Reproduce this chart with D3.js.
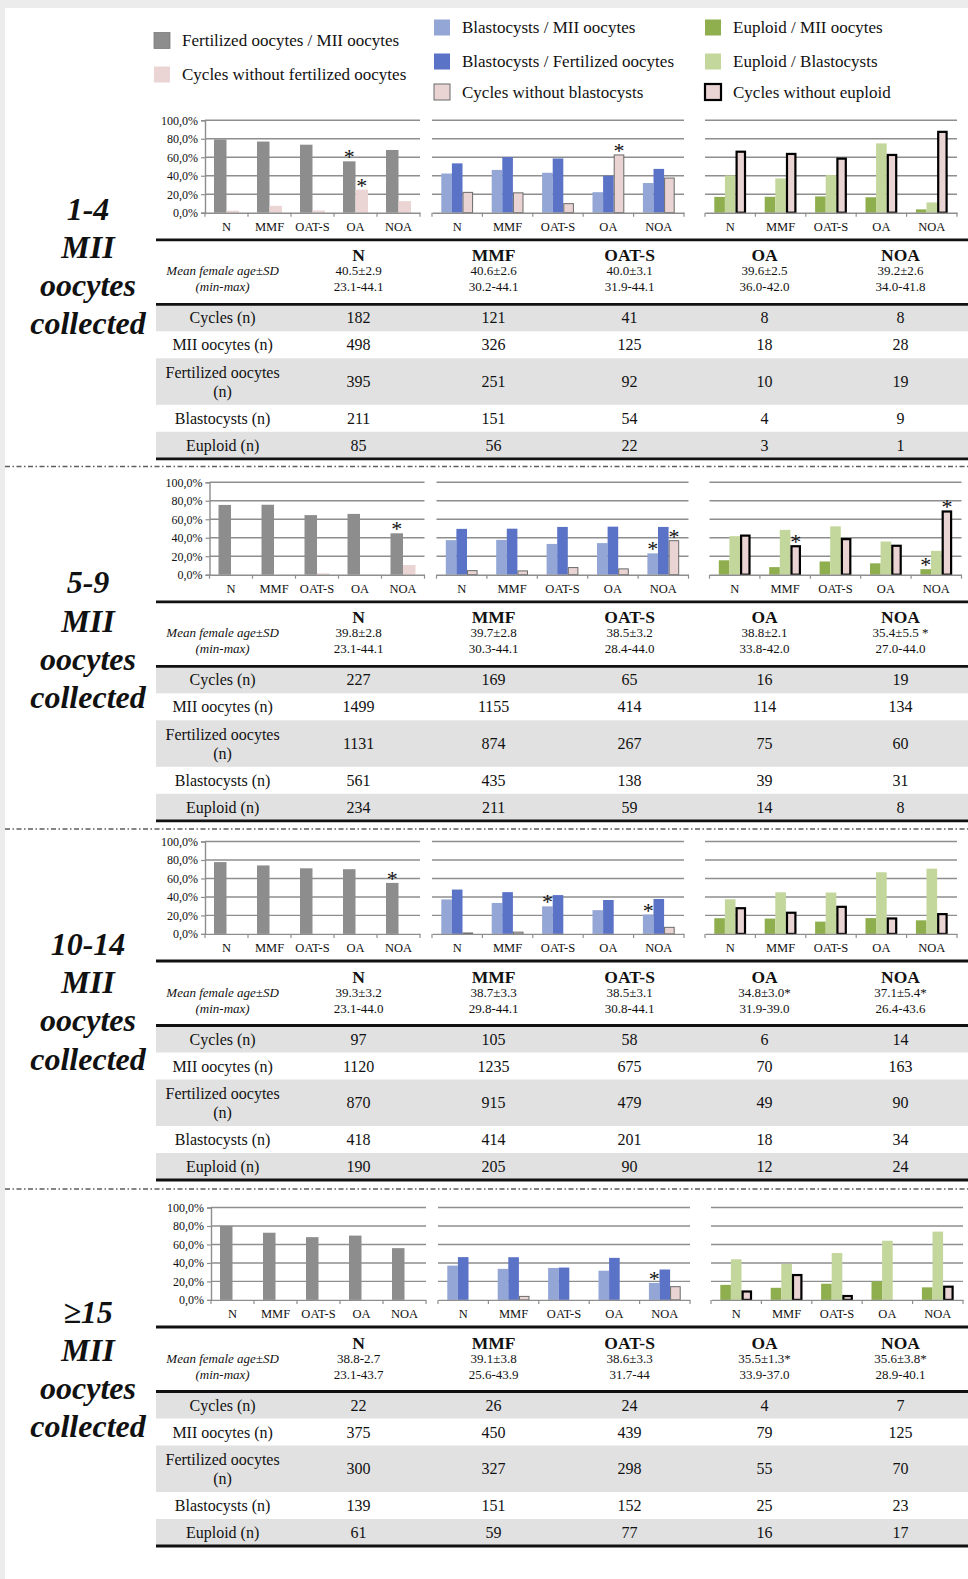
<!DOCTYPE html>
<html><head><meta charset="utf-8">
<script src="https://cdn.jsdelivr.net/npm/d3@7"></script>
<style>
html,body{margin:0;padding:0;background:#fff;}
svg{display:block;}
text{font-family:"Liberation Serif","Times New Roman",serif;fill:#111;}
</style></head><body>
<svg id="fig" width="968" height="1579"></svg>
<script>
// ---- data ----
const groups = ["N", "MMF", "OAT-S", "OA", "NOA"];
const panelTitles = ["1-4", "5-9", "10-14", "\u226515"];
const yTicks = [0, 20, 40, 60, 80, 100];

// percentages per panel (rows) and male factor group (columns)
const fertPerMII      = [[79.3,77.0,73.6,55.6,67.9],[75.5,75.7,64.5,65.8,44.8],[77.7,74.1,71.0,70.0,55.2],[80.0,72.7,67.9,69.6,56.0]];
const noFertCycles    = [[2.2,7.4,2.4,25.0,12.5],[0,0,1.5,0,10.5],[0,0,0,0,0],[0,0,0,0,0]];
const blastPerMII     = [[42.4,46.3,43.2,22.2,32.1],[37.4,37.7,33.3,34.2,23.1],[37.3,33.5,29.8,25.7,20.9],[37.1,33.6,34.6,31.6,18.4]];
const blastPerFert    = [[53.4,60.2,58.7,40.0,47.4],[49.6,49.8,51.7,52.0,51.7],[48.0,45.2,42.0,36.7,37.8],[46.3,46.2,35.0,45.5,32.9]];
const noBlastCycles   = [[22.0,21.5,9.8,62.5,37.5],[4.4,4.1,7.7,6.3,36.8],[1.0,1.9,0,0,7.1],[0,3.8,0,0,14.3]];
const euploidPerMII   = [[17.1,17.2,17.6,16.7,3.6],[15.6,8.2,14.3,12.3,6.0],[17.0,16.6,13.3,17.1,14.7],[16.3,13.1,17.5,20.3,13.6]];
const euploidPerBlast = [[40.3,37.1,40.7,75.0,11.1],[41.7,48.5,52.3,35.9,25.8],[37.5,45.0,44.8,66.7,70.6],[43.9,39.1,50.7,64.0,73.9]];
const noEuploidCycles = [[66.0,63.6,58.5,62.5,87.5],[42.3,30.8,38.5,31.3,68.4],[27.8,22.9,29.3,16.7,21.4],[9.1,26.9,4.2,0,14.3]];

// significant differences: [chart, series, group]
const significance = [
  [[0,0,3],[0,1,3],[1,2,3]],
  [[0,0,4],[1,0,4],[1,2,4],[2,2,1],[2,0,4],[2,2,4]],
  [[0,0,4],[1,0,2],[1,0,4]],
  [[1,0,4]]
];

// table counts
const ageMeanSD = [["40.5\u00b12.9","40.6\u00b12.6","40.0\u00b13.1","39.6\u00b12.5","39.2\u00b12.6"],
                   ["39.8\u00b12.8","39.7\u00b12.8","38.5\u00b13.2","38.8\u00b12.1","35.4\u00b15.5 *"],
                   ["39.3\u00b13.2","38.7\u00b13.3","38.5\u00b13.1","34.8\u00b13.0*","37.1\u00b15.4*"],
                   ["38.8-2.7","39.1\u00b13.8","38.6\u00b13.3","35.5\u00b11.3*","35.6\u00b13.8*"]];
const ageRange  = [["23.1-44.1","30.2-44.1","31.9-44.1","36.0-42.0","34.0-41.8"],
                   ["23.1-44.1","30.3-44.1","28.4-44.0","33.8-42.0","27.0-44.0"],
                   ["23.1-44.0","29.8-44.1","30.8-44.1","31.9-39.0","26.4-43.6"],
                   ["23.1-43.7","25.6-43.9","31.7-44","33.9-37.0","28.9-40.1"]];
const cycles      = [[182,121,41,8,8],[227,169,65,16,19],[97,105,58,6,14],[22,26,24,4,7]];
const miiOocytes  = [[498,326,125,18,28],[1499,1155,414,114,134],[1120,1235,675,70,163],[375,450,439,79,125]];
const fertilized  = [[395,251,92,10,19],[1131,874,267,75,60],[870,915,479,49,90],[300,327,298,55,70]];
const blastocysts = [[211,151,54,4,9],[561,435,138,39,31],[418,414,201,18,34],[139,151,152,25,23]];
const euploid     = [[85,56,22,3,1],[234,211,59,14,8],[190,205,90,12,24],[61,59,77,16,17]];
const rowLabels = [["Cycles (n)"],["MII oocytes (n)"],["Fertilized oocytes","(n)"],["Blastocysts (n)"],["Euploid (n)"]];

// ---- styles ----
const C = {
  gray: "#8d8d8d", pinkFlat: "#ead5d4", blueLight: "#93a6d5", blueDark: "#5a73c7",
  pink: "#e9d4d3", greenDark: "#8fae4e", greenLight: "#c3d69b", grid: "#8e8e8e", rowBg: "#e1e1e1"
};
const chartSeries = [
  [{data: fertPerMII, fill: C.gray}, {data: noFertCycles, fill: C.pinkFlat}],
  [{data: blastPerMII, fill: C.blueLight}, {data: blastPerFert, fill: C.blueDark}, {data: noBlastCycles, fill: C.pink, stroke: "#6a6a6a", sw: 1}],
  [{data: euploidPerMII, fill: C.greenDark}, {data: euploidPerBlast, fill: C.greenLight}, {data: noEuploidCycles, fill: C.pink, stroke: "#000", sw: 2.2}]
];
const legendItems = [
  {x: 154, y: 40.5, label: "Fertilized oocytes / MII oocytes", fill: C.gray, stroke: "#7a7a7a", sw: 0.8},
  {x: 154, y: 74.5, label: "Cycles without fertilized oocytes", fill: C.pinkFlat},
  {x: 434, y: 27.5, label: "Blastocysts / MII oocytes", fill: C.blueLight},
  {x: 434, y: 61.5, label: "Blastocysts / Fertilized oocytes", fill: C.blueDark},
  {x: 434, y: 92, label: "Cycles without blastocysts", fill: C.pink, stroke: "#6a6a6a", sw: 1},
  {x: 705, y: 27.5, label: "Euploid / MII oocytes", fill: C.greenDark},
  {x: 705, y: 61.5, label: "Euploid / Blastocysts", fill: C.greenLight},
  {x: 705, y: 92, label: "Cycles without euploid", fill: C.pink, stroke: "#000", sw: 2.2}
];

// ---- layout ----
const W = 968, H = 1579;
const chartTops = [120.3, 482.3, 841.5, 1207.5];
const panelShift = [0, 4.5, 0, 6];
const chartH = 92.4;
const chartX = [205, 432, 705], chartW = [215, 252, 252], barPad = [9, 9.3, 9.3];
const tableOffset = 119.5, tableX0 = 156, tableX1 = 968;
const labelColX = 222.6, colX = [358.6, 493.6, 629.6, 764.5, 900.5];
const headerH = 64.5, rowH = [27, 27, 46.5, 27, 27];
const titleY = [208.5, 582.2, 943.8, 1311.5], titleStep = 38.3, titleX = 88;
const separators = [466.4, 829, 1189];

const svg = d3.select("#fig");
svg.append("rect").attr("width", W).attr("height", H).attr("fill", "#fff");
svg.append("rect").attr("width", W).attr("height", 8).attr("fill", "#ececec");
svg.append("rect").attr("width", 5).attr("height", H).attr("fill", "#ececec");

function txt(g, x, y, s, o = {}) {
  return g.append("text").attr("x", x).attr("y", y)
    .attr("text-anchor", o.anchor || "middle")
    .attr("dominant-baseline", "central")
    .style("font-size", (o.size || 16) + "px")
    .style("font-weight", o.bold ? "bold" : null)
    .style("font-style", o.italic ? "italic" : null)
    .text(s);
}

// legend
const lg = svg.append("g");
legendItems.forEach(d => {
  lg.append("rect").attr("x", d.x).attr("y", d.y - 8).attr("width", 16).attr("height", 16)
    .attr("fill", d.fill).attr("stroke", d.stroke || "none").attr("stroke-width", d.sw || 0);
  txt(lg, d.x + 28, d.y, d.label, {anchor: "start", size: 17});
});

// separators
separators.forEach(yy => {
  svg.append("line").attr("x1", 5).attr("x2", W).attr("y1", yy).attr("y2", yy)
    .attr("stroke", "#5e5e5e").attr("stroke-width", 1.5).attr("stroke-dasharray", "5,2.5,1.5,2.5");
});

chartTops.forEach((top, p) => {
  const dx = panelShift[p];
  const g = svg.append("g");

  // three bar charts
  chartSeries.forEach((series, c) => {
    const x0 = chartX[c] + dx, x1 = x0 + chartW[c];
    const y = d3.scaleLinear().domain([0, 100]).range([top + chartH, top]);
    const band = d3.scaleBand().domain(groups).range([x0, x1]);
    const inner = d3.scaleBand().domain(d3.range(series.length)).range([barPad[c], band.bandwidth() - barPad[c]]);
    const cg = g.append("g");

    cg.selectAll("line.grid").data(yTicks.filter(t => t > 0)).join("line")
      .attr("x1", x0).attr("x2", x1).attr("y1", d => y(d)).attr("y2", d => y(d))
      .attr("stroke", C.grid).attr("stroke-width", 1.4);

    if (c === 0) {
      const ax = cg.append("g").attr("transform", `translate(${x0},0)`)
        .call(d3.axisLeft(y).tickValues(yTicks).tickSize(4).tickPadding(3)
          .tickFormat(d => d.toFixed(1).replace(".", ",") + "%"));
      ax.select(".domain").attr("stroke", C.grid).attr("stroke-width", 1.4);
      ax.selectAll(".tick line").attr("stroke", C.grid).attr("stroke-width", 1.2);
      ax.selectAll(".tick text").style("font-family", '"Liberation Serif",serif').style("font-size", "12px").attr("fill", "#111");
    }

    series.forEach((s, si) => {
      cg.selectAll(null).data(groups.map((gname, gi) => ({gname, v: s.data[p][gi]})).filter(d => d.v > 0))
        .join("rect")
        .attr("x", d => band(d.gname) + inner(si) + (s.sw ? s.sw / 2 : 0))
        .attr("width", inner.bandwidth() - (s.sw ? s.sw : 0))
        .attr("y", d => y(d.v))
        .attr("height", d => y(0) - y(d.v))
        .attr("fill", s.fill)
        .attr("stroke", s.stroke || "none").attr("stroke-width", s.sw || 0);
    });

    // category axis
    const xa = cg.append("g").attr("transform", `translate(0,${y(0)})`)
      .call(d3.axisBottom(band).tickSize(0).tickPadding(9));
    xa.select(".domain").attr("stroke", C.grid).attr("stroke-width", 1.4);
    xa.selectAll(".tick text").style("font-family", '"Liberation Serif",serif').style("font-size", "12.5px").attr("fill", "#111");
    const bounds = groups.map(gname => band(gname)).concat([x1]);
    cg.selectAll("line.bt").data(bounds).join("line")
      .attr("x1", d => d).attr("x2", d => d).attr("y1", y(0)).attr("y2", y(0) + 4)
      .attr("stroke", C.grid).attr("stroke-width", 1.2);

    // significance marks
    significance[p].filter(m => m[0] === c).forEach(m => {
      const s = series[m[1]];
      const v = s.data[p][m[2]];
      const cx = band(groups[m[2]]) + inner(m[1]) + inner.bandwidth() / 2;
      g.append("text").attr("x", cx).attr("y", y(v) + 3).attr("text-anchor", "middle")
        .style("font-size", "22px").text("*");
    });
  });

  // table
  const t0 = top + tableOffset;
  const tg = g.append("g");
  let yy = t0 + headerH;
  const rowValues = [cycles, miiOocytes, fertilized, blastocysts, euploid];
  rowH.forEach((h, r) => {
    if (r % 2 === 0) tg.append("rect").attr("x", tableX0).attr("y", yy).attr("width", tableX1 - tableX0).attr("height", h).attr("fill", C.rowBg);
    const mid = yy + h / 2;
    const lab = rowLabels[r];
    if (lab.length === 1) txt(tg, labelColX, mid, lab[0], {size: 16});
    else { txt(tg, labelColX, mid - 9.5, lab[0], {size: 16}); txt(tg, labelColX, mid + 9.5, lab[1], {size: 16}); }
    groups.forEach((gname, gi) => txt(tg, colX[gi], mid, rowValues[r][p][gi], {size: 16}));
    yy += h;
  });
  // header
  txt(tg, labelColX, t0 + 31, "Mean female age\u00b1SD", {size: 13, italic: true});
  txt(tg, labelColX, t0 + 47, "(min-max)", {size: 13, italic: true});
  groups.forEach((gname, gi) => {
    txt(tg, colX[gi], t0 + 15.5, gname, {size: 17.5, bold: true});
    txt(tg, colX[gi], t0 + 31, ageMeanSD[p][gi], {size: 13});
    txt(tg, colX[gi], t0 + 47, ageRange[p][gi], {size: 13});
  });
  [t0, t0 + headerH, yy].forEach(ly => {
    tg.append("line").attr("x1", tableX0).attr("x2", tableX1).attr("y1", ly).attr("y2", ly)
      .attr("stroke", "#111").attr("stroke-width", 2.8);
  });

  // panel title
  [panelTitles[p], "MII", "oocytes", "collected"].forEach((s, i) => {
    txt(g, titleX, titleY[p] + i * titleStep, s, {size: 32, bold: true, italic: true});
  });
});
</script>
</body></html>
